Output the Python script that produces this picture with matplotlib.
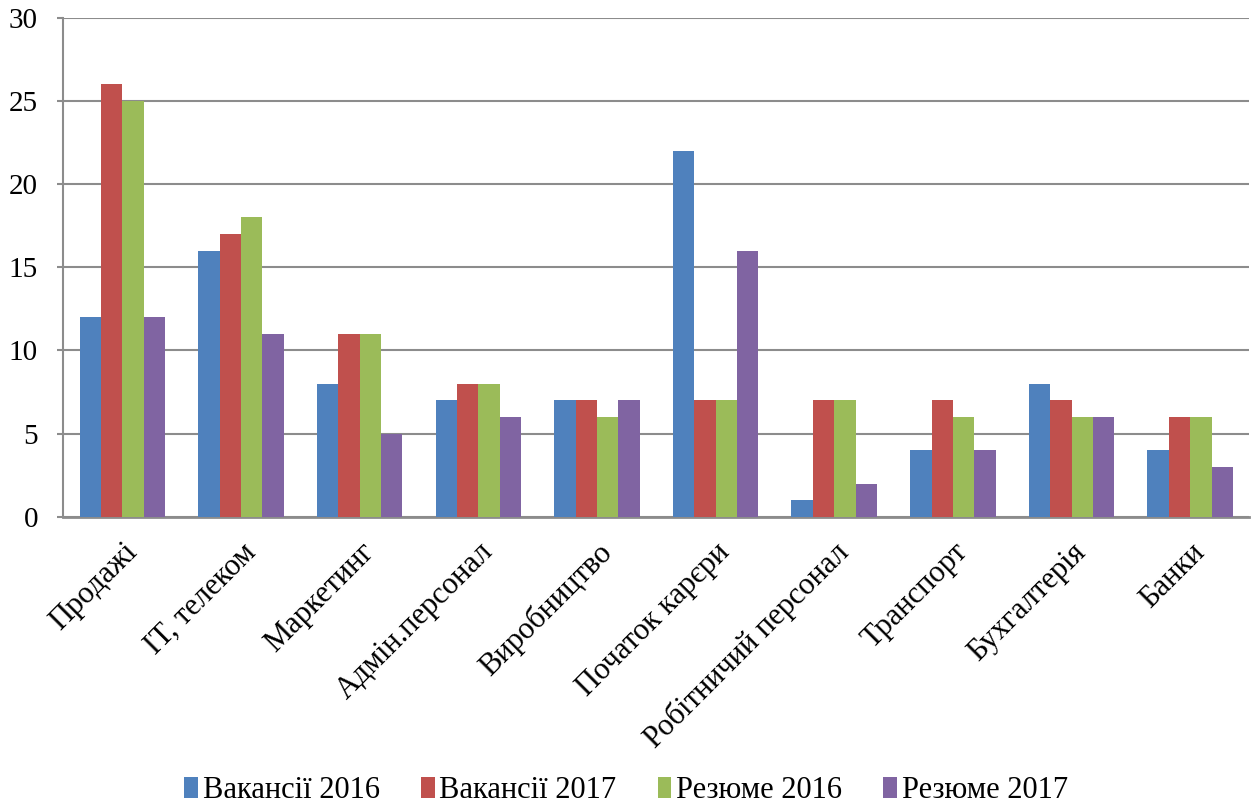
import matplotlib
matplotlib.use("Agg")
import matplotlib.pyplot as plt
import numpy as np

categories = ["Продажі", "ІТ, телеком", "Маркетинг", "Адмін.персонал", "Виробництво",
              "Початок карєри", "Робітничий персонал", "Транспорт", "Бухгалтерія", "Банки"]
series_names = ["Вакансії 2016", "Вакансії 2017", "Резюме 2016", "Резюме 2017"]
vac2016 = [12, 16, 8, 7, 7, 22, 1, 4, 8, 4]
vac2017 = [26, 17, 11, 8, 7, 7, 7, 7, 7, 6]
res2016 = [25, 18, 11, 8, 6, 7, 7, 6, 6, 6]
res2017 = [12, 11, 5, 6, 7, 16, 2, 4, 6, 3]
colors = ["#4F81BD", "#C0504D", "#9BBB59", "#8064A2"]

plt.rcParams['font.family'] = ['Liberation Serif', 'DejaVu Serif']

fig = plt.figure(figsize=(12.52, 8.05), dpi=100)
ax = fig.add_axes([0.0503, 0.358, 0.9477, 0.62])

x = np.arange(len(categories))
w = 0.18
data = [vac2016, vac2017, res2016, res2017]
for i, (vals, name, c) in enumerate(zip(data, series_names, colors)):
    ax.bar(x + (i - 1.5) * w, vals, w, color=c, label=name, zorder=3)

ax.set_ylim(0, 30)
ax.set_xlim(-0.5, len(categories) - 0.5)
ax.set_yticks(range(0, 31, 5))
ax.yaxis.grid(True, color="#8c8c8c", linewidth=1.5, zorder=0)
for s in ["top", "right"]:
    ax.spines[s].set_visible(False)
ax.spines["left"].set_color("#8c8c8c")
ax.spines["bottom"].set_color("#8c8c8c")
ax.spines["left"].set_linewidth(1.5)
ax.spines["bottom"].set_linewidth(2)
ax.tick_params(axis="y", length=4, width=1.5, color="#8c8c8c", labelsize=21, pad=14)
ax.tick_params(axis="x", length=0, labelsize=22, pad=15)
ax.set_xticks(x)
ax.set_xticklabels(categories, rotation=45, ha="right", rotation_mode="anchor")

fig.legend(loc="center", bbox_to_anchor=(0.5, 0.018), ncol=4, frameon=False,
           fontsize=22, handlelength=0.45, handleheight=0.7, handletextpad=0.15,
           columnspacing=1.35)

fig.savefig("out.png", dpi=100)
